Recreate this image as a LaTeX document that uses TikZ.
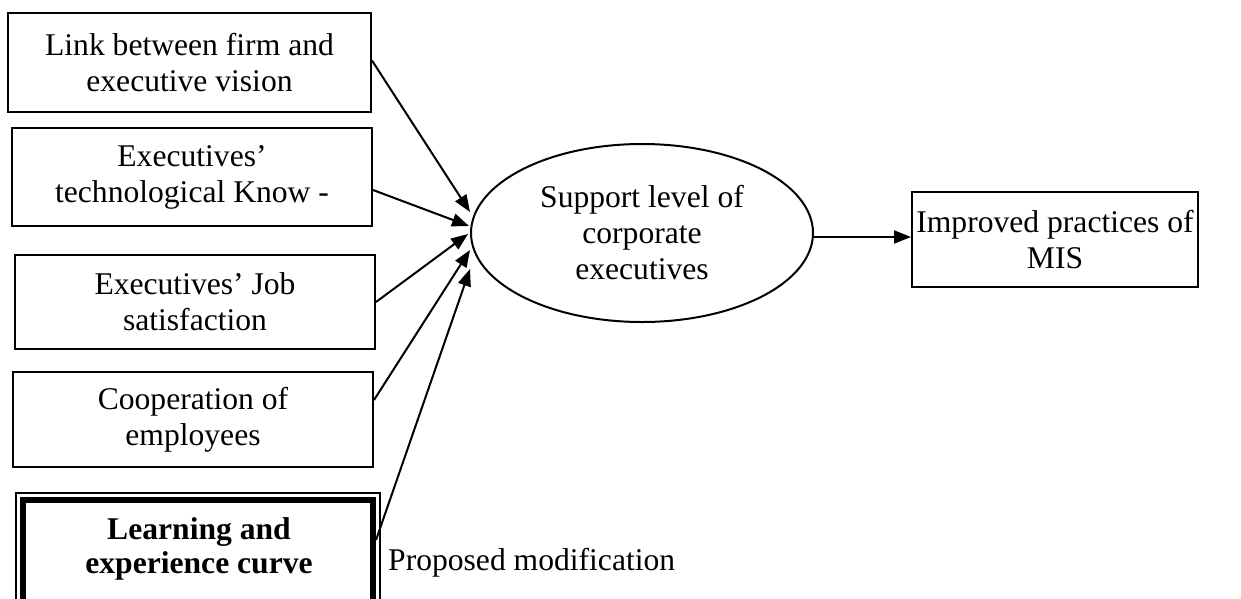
\documentclass[tikz,border=0pt]{standalone}
\usepackage{fontspec}
\setmainfont{Liberation Serif}
\usetikzlibrary{shapes.geometric,arrows.meta,calc}
\begin{document}
\begin{tikzpicture}[x=1pt,y=-1pt,
  every node/.style={font=\fontsize{31.6}{36}\selectfont, align=center, inner sep=0pt},
  box/.style={draw, line width=2pt, minimum height=96pt},
  conn/.style={line width=2pt, -{Triangle[length=17pt,width=13pt]}}]
\useasboundingbox (0,0) rectangle (1241,598);
\node[box, minimum width=363pt, minimum height=99pt] (b1) at (189.5,62.5) {Link between firm and\\executive vision};
\node[box, minimum width=360pt, minimum height=98pt] (b2) at (192,177) {Executives’\\technological Know -};
\node[box, minimum width=360pt, minimum height=94pt] (b3) at (195,302) {Executives’ Job\\satisfaction};
\node[box, minimum width=360pt, minimum height=95pt] (b4) at (193,419.5) {Cooperation of\\employees};
\node[draw, line width=1.2pt, minimum width=364pt, minimum height=154pt] (b5o) at (198,570) {};
\node[draw, line width=6pt, minimum width=350pt, minimum height=140pt] (b5) at (198,570) {};
\node[font=\fontsize{31.6}{34}\selectfont\bfseries] (b5t) at (199,549) {Learning and\\experience curve};
\node[anchor=base west] (pm) at (388,570) {Proposed modification};
\node[draw, ellipse, line width=2pt, minimum width=342pt, minimum height=178pt] (e) at (642,233) {Support level of\\corporate\\executives};
\node[box, minimum width=286pt, minimum height=95pt] (r) at (1055,239.5) {Improved practices of\\MIS};
\coordinate (t1) at ($(e.west)+(0,-21)$);
\coordinate (t2) at ($(e.west)+(-1,-7)$);
\coordinate (t3) at ($(e.west)+(-2,1)$);
\coordinate (t4) at ($(e.west)+(0,17)$);
\coordinate (t5) at ($(e.west)+(0,36)$);
\draw[conn] ([yshift=2pt]b1.east) -- (t1);
\draw[conn] ([yshift=-13pt]b2.east) -- (t2);
\draw[conn] (b3.east) -- (t3);
\draw[conn] ([yshift=19.5pt]b4.east) -- (t4);
\draw[conn] ([yshift=30pt]b5.east) -- (t5);
\draw[conn] ($(e.east)+(0,4)$) -- ($(r.west)+(0,-2.5)$);
\end{tikzpicture}
\end{document}
